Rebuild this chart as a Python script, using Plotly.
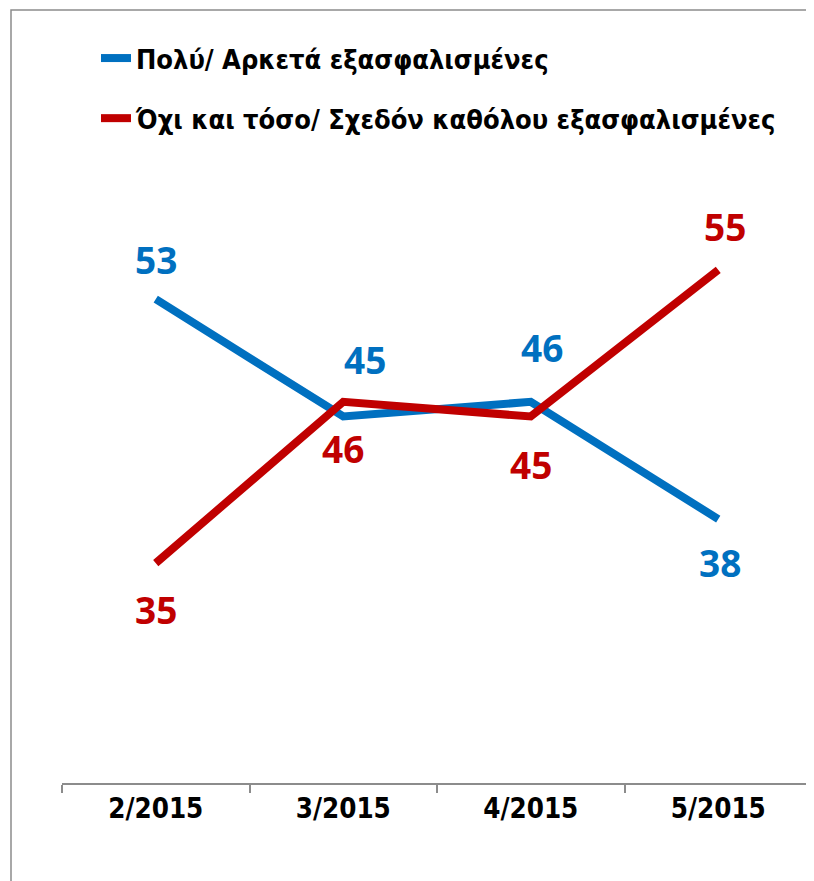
import plotly.graph_objects as go

categories = ["2/2015", "3/2015", "4/2015", "5/2015"]
series_names = ["Πολύ/ Αρκετά εξασφαλισμένες", "Όχι και τόσο/ Σχεδόν καθόλου εξασφαλισμένες"]
blue_values = [53, 45, 46, 38]
red_values = [35, 46, 45, 55]

BLUE = "#0070C0"
RED = "#C00000"
FONT = "Liberation Sans Narrow, DejaVu Sans Condensed, Arial Narrow, sans-serif"
LABEL_FONT = "Open Sans, sans-serif"

# page offset of the plotly div (body margin)
OX, OY = 8, 8
W, H = 814 - OX, 881 - OY
PL, PR, PT, PB = 62, 812, 50, 783  # plot area in page pixels
PW, PH = PR - PL, PB - PT

# label offsets (px): (xshift, yshift)
blue_offsets = [(0, 40), (22, 57), (11, 54), (2, -43)]
red_offsets = [(0, -46), (0, -47), (0, -48), (7, 43)]

fig = go.Figure()
fig.add_trace(go.Scatter(x=categories, y=blue_values, mode="lines", name=series_names[0],
                         legendgroup="a", line=dict(color=BLUE, width=8)))
fig.add_trace(go.Scatter(x=categories, y=red_values, mode="lines", name=series_names[1],
                         legendgroup="b", line=dict(color=RED, width=8)))

annotations = []
for vals, offs, col in [(blue_values, blue_offsets, BLUE), (red_values, red_offsets, RED)]:
    for c, v, (dx, dy) in zip(categories, vals, offs):
        annotations.append(dict(x=c, y=v, xref="x", yref="y", text=f"<b>{v}</b>", showarrow=False,
                                xshift=dx, yshift=dy,
                                font=dict(family=LABEL_FONT, size=37, color=col)))

fig.update_layout(
    width=W, height=H,
    margin=dict(l=PL - OX, r=W - (PR - OX), t=PT - OY, b=H - (PB - OY)),
    paper_bgcolor="white", plot_bgcolor="white",
    showlegend=True,
    legend=dict(x=(96 - PL) / PW, y=(PB - 34) / PH, xanchor="left", yanchor="top",
                font=dict(family=FONT, size=27, color="black", weight="bold"),
                bgcolor="rgba(0,0,0,0)", traceorder="grouped", tracegroupgap=22, itemwidth=30),
    annotations=annotations,
    xaxis=dict(type="category", range=[-0.5, 3.5], showgrid=False, showline=True,
               linecolor="#8c8c8c", linewidth=1.5, ticks="outside", tickson="boundaries",
               tickcolor="#8c8c8c", ticklen=8, tickwidth=1.5,
               tickfont=dict(family=FONT, size=27.5, color="black", weight="bold"), fixedrange=True),
    yaxis=dict(range=[20, 70], visible=False, showgrid=False, zeroline=False),
    shapes=[dict(type="rect", xref="paper", yref="paper", x0=(11 - PL) / PW, x1=1.2,
                 y0=-0.3, y1=(PB - 10) / PH, line=dict(color="#8c8c8c", width=1.5),
                 fillcolor="rgba(0,0,0,0)", layer="below")],
)

fig.write_html("out.html")
